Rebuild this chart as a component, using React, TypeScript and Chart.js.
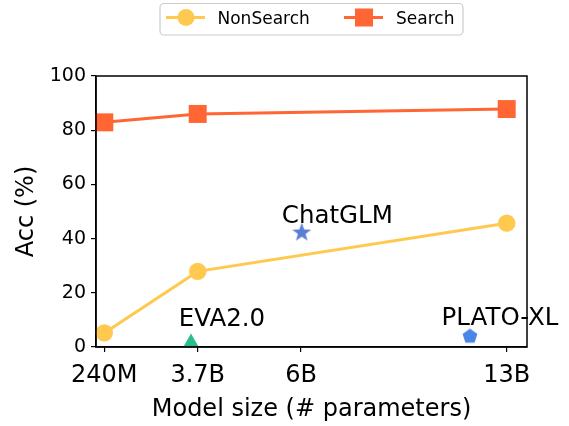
import React, { useEffect, useRef } from 'react';
import { Chart, registerables } from 'chart.js';
Chart.register(...registerables);

// x positions of the model-size ticks (plot units) and their labels
const sizeLabels = ['240M', '3.7B', '6B', '13B'];
const sizePos = [0, 0.934, 1.967, 4.024];

// NonSearch / Search series (Acc %)
const nonSearchX = [0, 0.934, 4.024];
const nonSearchY = [5.2, 27.9, 45.7];
const searchX = [0, 0.934, 4.024];
const searchY = [82.9, 86.0, 87.8];

// Other models
const otherNames = ['EVA2.0', 'ChatGLM', 'PLATO-XL'];
const otherX = [0.867, 1.974, 3.657];
const otherY = [1.8, 42.2, 3.9];
// label anchors (center x, baseline y) in data units
const labelX = [1.177, 2.33, 3.957];
const labelY = [7.6, 45.7, 8.0];

const yTicks = [0, 20, 40, 60, 80, 100];

const C_NON = '#FFC94F';
const C_SEARCH = '#FF6633';
const C_EVA = '#2BBE8C';
const C_GLM = '#5A7ED3';
const C_PLATO = '#4A86E8';
const FONT = "'DejaVu Sans', sans-serif";

function makeStar(color: string, R: number) {
  const s = 2 * Math.ceil(R + 1);
  const c = document.createElement('canvas');
  c.width = s; c.height = s;
  const ctx = c.getContext('2d')!;
  ctx.translate(s / 2, s / 2);
  ctx.beginPath();
  for (let i = 0; i < 10; i++) {
    const r = i % 2 === 0 ? R : R * 0.4;
    const a = -Math.PI / 2 + (i * Math.PI) / 5;
    ctx.lineTo(r * Math.cos(a), r * Math.sin(a));
  }
  ctx.closePath();
  ctx.fillStyle = color;
  ctx.fill();
  return c;
}

function makePentagon(color: string, R: number) {
  const s = 2 * Math.ceil(R + 1);
  const c = document.createElement('canvas');
  c.width = s; c.height = s;
  const ctx = c.getContext('2d')!;
  ctx.translate(s / 2, s / 2);
  ctx.beginPath();
  for (let i = 0; i < 5; i++) {
    const a = -Math.PI / 2 + (i * 2 * Math.PI) / 5;
    ctx.lineTo(R * Math.cos(a), R * Math.sin(a));
  }
  ctx.closePath();
  ctx.fillStyle = color;
  ctx.fill();
  return c;
}

export default function App() {
  const ref = useRef<HTMLCanvasElement | null>(null);
  useEffect(() => {
    document.body.style.margin = '0';
    const canvas = ref.current!;
    const star = makeStar(C_GLM, 10);
    const penta = makePentagon(C_PLATO, 7.8);

    const extras = {
      id: 'extras',
      afterDraw(chart: any) {
        const { ctx, chartArea: a, scales } = chart;
        const xs = scales.x, ys = scales.y;
        ctx.save();
        // frame
        ctx.strokeStyle = '#000';
        ctx.lineWidth = 1.5;
        ctx.strokeRect(a.left, a.top, a.right - a.left, a.bottom - a.top);
        // annotations
        ctx.fillStyle = '#000';
        ctx.font = `24.5px ${FONT}`;
        ctx.textAlign = 'center';
        ctx.textBaseline = 'alphabetic';
        otherNames.forEach((n, i) => {
          ctx.fillText(n, xs.getPixelForValue(labelX[i]), ys.getPixelForValue(labelY[i]));
        });
        // legend
        const bx = 160, by = 3.5, bw = 303, bh = 31.5, r = 4;
        ctx.beginPath();
        ctx.moveTo(bx + r, by);
        ctx.arcTo(bx + bw, by, bx + bw, by + bh, r);
        ctx.arcTo(bx + bw, by + bh, bx, by + bh, r);
        ctx.arcTo(bx, by + bh, bx, by, r);
        ctx.arcTo(bx, by, bx + bw, by, r);
        ctx.closePath();
        ctx.fillStyle = 'rgba(255,255,255,0.8)';
        ctx.fill();
        ctx.strokeStyle = '#cccccc';
        ctx.lineWidth = 1.2;
        ctx.stroke();
        const cy = 17.5;
        // NonSearch sample
        ctx.strokeStyle = C_NON;
        ctx.lineWidth = 3;
        ctx.beginPath(); ctx.moveTo(166, cy); ctx.lineTo(205, cy); ctx.stroke();
        ctx.fillStyle = C_NON;
        ctx.beginPath(); ctx.arc(186, cy, 8.5, 0, Math.PI * 2); ctx.fill();
        // Search sample
        ctx.strokeStyle = C_SEARCH;
        ctx.beginPath(); ctx.moveTo(344, cy); ctx.lineTo(383, cy); ctx.stroke();
        ctx.fillStyle = C_SEARCH;
        ctx.fillRect(364 - 9, cy - 9, 18, 18);
        ctx.fillStyle = '#000';
        ctx.font = `17px ${FONT}`;
        ctx.textAlign = 'left';
        ctx.fillText('NonSearch', 217.5, cy + 0.3645 * 17);
        ctx.fillText('Search', 396, cy + 0.3645 * 17);
        ctx.restore();
      },
    };

    const chart = new Chart(canvas, {
      type: 'scatter',
      data: {
        datasets: [
          {
            label: 'NonSearch',
            data: nonSearchX.map((x, i) => ({ x, y: nonSearchY[i] })),
            showLine: true,
            borderColor: C_NON,
            backgroundColor: C_NON,
            borderWidth: 3,
            pointStyle: 'circle',
            pointRadius: 8.7,
            pointBorderWidth: 0,
            clip: false,
          } as any,
          {
            label: 'Search',
            data: searchX.map((x, i) => ({ x, y: searchY[i] })),
            showLine: true,
            borderColor: C_SEARCH,
            backgroundColor: C_SEARCH,
            borderWidth: 3,
            pointStyle: 'rect',
            pointRadius: 12.7,
            pointBorderWidth: 0,
            clip: false,
          } as any,
          {
            label: otherNames[0],
            data: [{ x: otherX[0], y: otherY[0] }],
            backgroundColor: C_EVA,
            borderColor: C_EVA,
            pointStyle: 'triangle',
            pointRadius: 8.6,
            pointBorderWidth: 0,
            clip: false,
          } as any,
          {
            label: otherNames[1],
            data: [{ x: otherX[1], y: otherY[1] }],
            pointStyle: star,
            pointRadius: 10,
            clip: false,
          } as any,
          {
            label: otherNames[2],
            data: [{ x: otherX[2], y: otherY[2] }],
            pointStyle: penta,
            pointRadius: 8,
            clip: false,
          } as any,
        ],
      },
      options: {
        animation: false,
        responsive: false,
        maintainAspectRatio: false,
        events: [],
        layout: { padding: { top: 76, right: 42, left: 0, bottom: 0 } },
        plugins: { legend: { display: false }, tooltip: { enabled: false } },
        scales: {
          x: {
            type: 'linear',
            min: -0.083,
            max: 4.227,
            afterFit: (s: any) => { s.height = 79; },
            afterBuildTicks: (s: any) => { s.ticks = sizePos.map((v) => ({ value: v })); },
            ticks: {
              color: '#000',
              font: { size: 24, family: FONT },
              padding: 9,
              maxRotation: 0,
              autoSkip: false,
              callback: (v: any) => {
                const i = sizePos.findIndex((p) => Math.abs(p - v) < 1e-6);
                return i >= 0 ? sizeLabels[i] : '';
              },
            },
            grid: { drawOnChartArea: false, color: '#000', lineWidth: 1.2, tickLength: 5 },
            border: { color: '#000', width: 1.5 },
            title: {
              display: true,
              text: 'Model size (# parameters)',
              color: '#000',
              font: { size: 24, family: FONT },
              padding: { top: 0, bottom: 2 },
            },
          },
          y: {
            type: 'linear',
            min: 0,
            max: 100,
            afterFit: (s: any) => { s.width = 96; },
            afterBuildTicks: (s: any) => { s.ticks = yTicks.map((v) => ({ value: v })); },
            ticks: {
              color: '#000',
              font: { size: 19, family: FONT },
              padding: 5,
              callback: (v: any) => String(v),
            },
            grid: { drawOnChartArea: false, color: '#000', lineWidth: 1.2, tickLength: 5 },
            border: { color: '#000', width: 1.5 },
            title: {
              display: true,
              text: 'Acc (%)',
              color: '#000',
              font: { size: 24, family: FONT },
              padding: { top: 12, bottom: 0 },
            },
          },
        },
      },
      plugins: [extras],
    } as any);
    return () => chart.destroy();
  }, []);

  return (
    <div style={{ position: 'fixed', left: 0, top: 0, width: 569, height: 426, background: '#fff' }}>
      <canvas ref={ref} width={569} height={426} style={{ width: 569, height: 426, display: 'block' }} />
    </div>
  );
}
